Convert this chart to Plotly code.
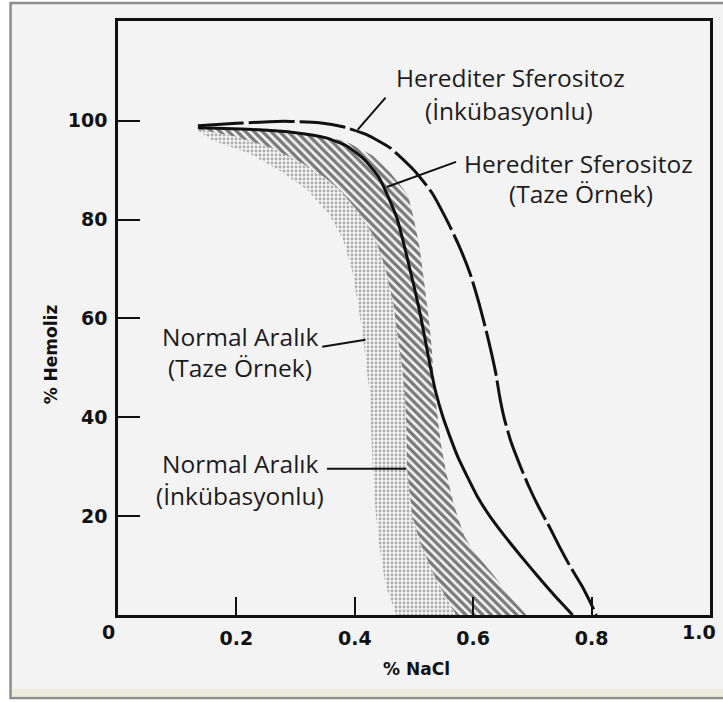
import plotly.graph_objects as go

# ---------------- data ----------------
# Herediter Sferositoz (İnkübasyonlu) - dashed curve
hs_inc_x = [0.135, 0.20, 0.28, 0.34, 0.38, 0.42, 0.46, 0.50, 0.53, 0.555, 0.575,
            0.595, 0.61, 0.623, 0.638, 0.645, 0.652, 0.664, 0.68, 0.694, 0.71,
            0.728, 0.745, 0.763, 0.783, 0.796, 0.808]
hs_inc_y = [99.0, 99.5, 99.9, 99.6, 98.8, 97.2, 94.5, 90.0, 85.5, 80.0, 75.0,
            69.0, 63.0, 57.0, 49.0, 44.0, 40.0, 35.0, 30.0, 26.0, 22.0,
            18.0, 14.0, 10.0, 6.0, 3.0, 0.0]

# Herediter Sferositoz (Taze Örnek) - solid curve
hs_fresh_x = [0.135, 0.22, 0.30, 0.35, 0.385, 0.415, 0.44, 0.455, 0.472, 0.483, 0.493,
              0.503, 0.512, 0.52, 0.528, 0.537, 0.549, 0.561, 0.574, 0.59, 0.607,
              0.628, 0.653, 0.68, 0.708, 0.737, 0.768]
hs_fresh_y = [98.6, 98.3, 97.6, 96.6, 95.0, 92.3, 88.7, 85.0, 80.0, 75.0, 70.0,
              65.0, 60.0, 55.0, 50.0, 45.0, 40.0, 36.0, 32.0, 28.0, 24.0,
              20.0, 16.0, 12.0, 8.0, 4.0, 0.0]

# Normal Aralık (İnkübasyonlu) - hatched band: outer (right) and inner (left) edges
ni_outer_x = [0.135, 0.25, 0.33, 0.385, 0.43, 0.46, 0.49, 0.50, 0.51, 0.518, 0.525,
              0.53, 0.533, 0.538, 0.545, 0.554, 0.568, 0.585, 0.60, 0.635, 0.66, 0.69]
ni_outer_y = [98.8, 98.4, 97.4, 95.8, 93.0, 89.5, 85.0, 80.0, 74.0, 67.0, 60.0,
              54.0, 48.0, 42.0, 35.0, 29.0, 22.0, 16.0, 13.0, 8.0, 4.0, 0.0]
ni_inner_x = [0.135, 0.20, 0.26, 0.31, 0.35, 0.375, 0.41, 0.435, 0.452, 0.465, 0.473,
              0.48, 0.485, 0.487, 0.488, 0.497, 0.513, 0.538, 0.571]
ni_inner_y = [98.3, 96.8, 94.5, 91.5, 88.5, 86.0, 81.0, 76.0, 70.0, 63.0, 56.0,
              50.0, 44.0, 38.0, 30.0, 20.0, 13.8, 7.0, 0.0]

# Normal Aralık (Taze Örnek) - stippled band, left edge (right edge = hatched inner edge)
nf_left_x = [0.135, 0.16, 0.22, 0.272, 0.32, 0.357, 0.38, 0.395, 0.405, 0.413, 0.42,
             0.425, 0.428, 0.432, 0.44, 0.452, 0.47]
nf_left_y = [98.0, 96.0, 93.5, 90.0, 86.0, 81.0, 76.0, 70.0, 63.0, 57.0, 50.0,
             45.0, 35.0, 25.0, 15.0, 6.0, 0.0]

# axis ticks
x_tickvals = [0.2, 0.4, 0.6, 0.8]
x_ticktext = ["0.2", "0.4", "0.6", "0.8"]
y_tickvals = [20, 40, 60, 80, 100]
y_ticktext = ["20", "40", "60", "80", "100"]

# label texts
label_lines = ["Herediter Sferositoz", "(İnkübasyonlu)",
               "Herediter Sferositoz", "(Taze Örnek)",
               "Normal Aralık", "(Taze Örnek)",
               "Normal Aralık", "(İnkübasyonlu)"]

# ---------------- figure ----------------
W, H = 723, 702
ML, MR, MT, MB = 118, 10, 21, 87
PW, PH = W - ML - MR, H - MT - MB
YMAX = 120.2

def px_to_paper_x(px):
    return (px - ML) / PW

def py_to_paper_y(py):
    return (H - MB - py) / PH

fig = go.Figure()

# stippled band
fig.add_trace(go.Scatter(
    x=ni_inner_x + nf_left_x[::-1], y=ni_inner_y + nf_left_y[::-1],
    mode="lines", fill="toself", line=dict(width=0, color="rgba(0,0,0,0)"),
    fillcolor="rgba(0,0,0,0)",
    fillpattern=dict(shape=".", fgcolor="#666666", bgcolor="rgba(0,0,0,0)",
                     size=4, solidity=0.4),
    hoverinfo="skip", showlegend=False))

# hatched band
fig.add_trace(go.Scatter(
    x=ni_outer_x + ni_inner_x[::-1], y=ni_outer_y + ni_inner_y[::-1],
    mode="lines", fill="toself", line=dict(width=0, color="rgba(0,0,0,0)"),
    fillcolor="rgba(0,0,0,0)",
    fillpattern=dict(shape="\\", fgcolor="#000000", bgcolor="rgba(0,0,0,0)",
                     size=6, solidity=0.55),
    hoverinfo="skip", showlegend=False))

# solid curve
fig.add_trace(go.Scatter(x=hs_fresh_x, y=hs_fresh_y, mode="lines",
                         line=dict(color="#111111", width=3, shape="spline", smoothing=0.5),
                         hoverinfo="skip", showlegend=False))
# dashed curve
fig.add_trace(go.Scatter(x=hs_inc_x, y=hs_inc_y, mode="lines",
                         line=dict(color="#111111", width=3, dash="46px,5px",
                                   shape="spline", smoothing=0.5),
                         hoverinfo="skip", showlegend=False))

# leader lines (data coordinates)
leaders = [((0.452, 104.7), (0.405, 98.2)),
           ((0.571, 91.7), (0.454, 86.6)),
           ((0.345, 54.3), (0.418, 55.7)),
           ((0.353, 29.6), (0.487, 29.6))]
shapes = []
# outer frame
shapes.append(dict(type="rect", xref="paper", yref="paper",
                   x0=px_to_paper_x(10), x1=px_to_paper_x(735),
                   y0=py_to_paper_y(698), y1=py_to_paper_y(3),
                   fillcolor="#f3f3f3", line=dict(color="#8c8c8c", width=2.5),
                   layer="below"))
shapes.append(dict(type="rect", xref="paper", yref="paper",
                   x0=px_to_paper_x(11.5), x1=px_to_paper_x(735),
                   y0=py_to_paper_y(696.5), y1=py_to_paper_y(689),
                   fillcolor="#eeecdc", line=dict(width=0), layer="below"))
for (a, b) in leaders:
    shapes.append(dict(type="line", xref="x", yref="y", x0=a[0], y0=a[1], x1=b[0], y1=b[1],
                       line=dict(color="#111111", width=2)))

# label annotations (pixel centres)
label_pos = [(512, 78), (511, 110), (581, 163), (583, 193),
             (241, 336), (241, 368), (241, 463), (241, 495)]
annotations = []
for t, (px, py) in zip(label_lines, label_pos):
    annotations.append(dict(text=t, xref="paper", yref="paper",
                            x=px_to_paper_x(px), y=py_to_paper_y(py),
                            xanchor="center", yanchor="middle", showarrow=False,
                            font=dict(family="Open Sans", size=24.5, color="#1c1c1c")))

tick_font = dict(family="DejaVu Sans", size=19, color="#111111", weight="bold")
# origin label, 1.0 label and axis titles
annotations.append(dict(text="0", xref="paper", yref="paper",
                        x=px_to_paper_x(108), y=py_to_paper_y(632),
                        xanchor="center", yanchor="middle", showarrow=False, font=tick_font))
annotations.append(dict(text="1.0", xref="paper", yref="paper",
                        x=px_to_paper_x(721), y=py_to_paper_y(632),
                        xanchor="right", yanchor="middle", showarrow=False, font=tick_font))
annotations.append(dict(text="% NaCl", xref="paper", yref="paper",
                        x=px_to_paper_x(418), y=py_to_paper_y(669),
                        xanchor="center", yanchor="middle", showarrow=False,
                        font=dict(family="DejaVu Sans", size=17, color="#111111", weight="bold")))
annotations.append(dict(text="% Hemoliz", xref="paper", yref="paper",
                        x=px_to_paper_x(51), y=py_to_paper_y(354), textangle=-90,
                        xanchor="center", yanchor="middle", showarrow=False,
                        font=dict(family="DejaVu Sans", size=17, color="#111111", weight="bold")))

fig.update_layout(
    width=W, height=H, autosize=False,
    margin=dict(l=ML, r=MR, t=MT, b=MB, pad=0),
    paper_bgcolor="white", plot_bgcolor="rgba(0,0,0,0)",
    shapes=shapes, annotations=annotations, showlegend=False,
    xaxis=dict(range=[0, 1], tickvals=x_tickvals, ticktext=x_ticktext,
               ticks="inside", ticklen=18, tickwidth=2, tickcolor="#111111",
               showline=True, linewidth=2.5, linecolor="#111111", mirror=True,
               showgrid=False, zeroline=False, tickfont=tick_font,
               ticklabelstandoff=4, fixedrange=True),
    yaxis=dict(range=[0, YMAX], tickvals=y_tickvals, ticktext=y_ticktext,
               ticks="inside", ticklen=22, tickwidth=2, tickcolor="#111111",
               showline=True, linewidth=2.5, linecolor="#111111", mirror=True,
               showgrid=False, zeroline=False, tickfont=tick_font,
               ticklabelstandoff=4, fixedrange=True),
)

fig.write_html("out.html")
